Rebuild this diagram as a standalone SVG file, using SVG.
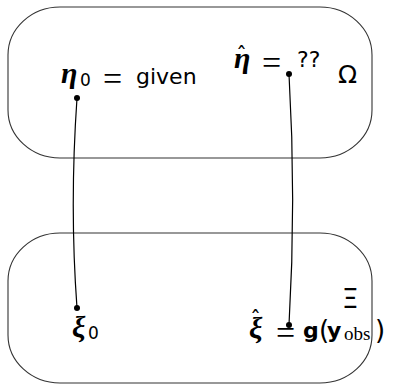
<svg xmlns="http://www.w3.org/2000/svg" width="393" height="385" viewBox="0 0 393 385">
<style>
.box{fill:none;stroke:#333;stroke-width:1.1}
.wire{fill:none;stroke:#000;stroke-width:1.2}
.dot{fill:#000}
.gr{font-family:"Liberation Serif",serif;font-style:italic;font-weight:bold;font-size:30px;fill:#000}
.sf{font-family:"DejaVu Sans",sans-serif;font-size:22px;fill:#000}
.eq{font-family:"Liberation Serif",serif;font-size:34px;fill:#000}
.sub{font-family:"DejaVu Sans",sans-serif;font-size:17px;fill:#000}
.bf{font-family:"DejaVu Sans",sans-serif;font-weight:bold;font-size:22px;fill:#000}
.rm{font-family:"Liberation Serif",serif;font-size:19px;fill:#000}
.hat{font-family:"DejaVu Sans",sans-serif;font-size:22px;fill:#000}
.par{font-family:"DejaVu Sans",sans-serif;font-size:26px;fill:#000}
</style>
<rect width="393" height="385" fill="#fff"/>
<g id="omega-set">
<rect class="box" x="8" y="7" width="364" height="151" rx="52" ry="48"/>
<text class="sf" x="338" y="83" style="font-size:25px">Ω</text>
</g>
<g id="xi-set">
<rect class="box" x="8" y="233" width="364" height="150" rx="52" ry="48"/>
<text class="sf" x="342" y="308" style="font-size:26px">Ξ</text>
</g>
<g id="connectors">
<path class="wire" d="M77,98 C72,170 72,240 77,308"/>
<path class="wire" d="M289,74 C294,160 294,240 289,325"/>
</g>
<g id="eta0">
<text class="gr" x="61" y="83">η</text>
<text class="sub" x="80" y="86">0</text>
<text class="eq" x="103" y="90">=</text>
<text class="sf" x="136" y="84">given</text>
<circle class="dot" cx="77" cy="98" r="3"/>
</g>
<g id="etahat">
<text class="gr" x="234" y="68">η</text>
<text class="hat" x="236" y="62">ˆ</text>
<text class="eq" x="262" y="74">=</text>
<text class="sf" x="297" y="67">??</text>
<circle class="dot" cx="289" cy="74" r="3"/>
</g>
<g id="xi0">
<text class="gr" x="72" y="337">ξ</text>
<text class="sub" x="88" y="339">0</text>
<circle class="dot" cx="77" cy="308" r="3"/>
</g>
<g id="xihat">
<text class="gr" x="249" y="338">ξ</text>
<text class="hat" x="250" y="326">ˆ</text>
<text class="eq" x="276" y="344">=</text>
<text class="bf" x="303" y="338">g</text>
<text class="par" x="319" y="339">(</text>
<text class="bf" x="327" y="338">y</text>
<text class="rm" x="344" y="340">obs</text>
<text class="par" x="375" y="339">)</text>
<circle class="dot" cx="289" cy="325" r="3"/>
</g>
</svg>
